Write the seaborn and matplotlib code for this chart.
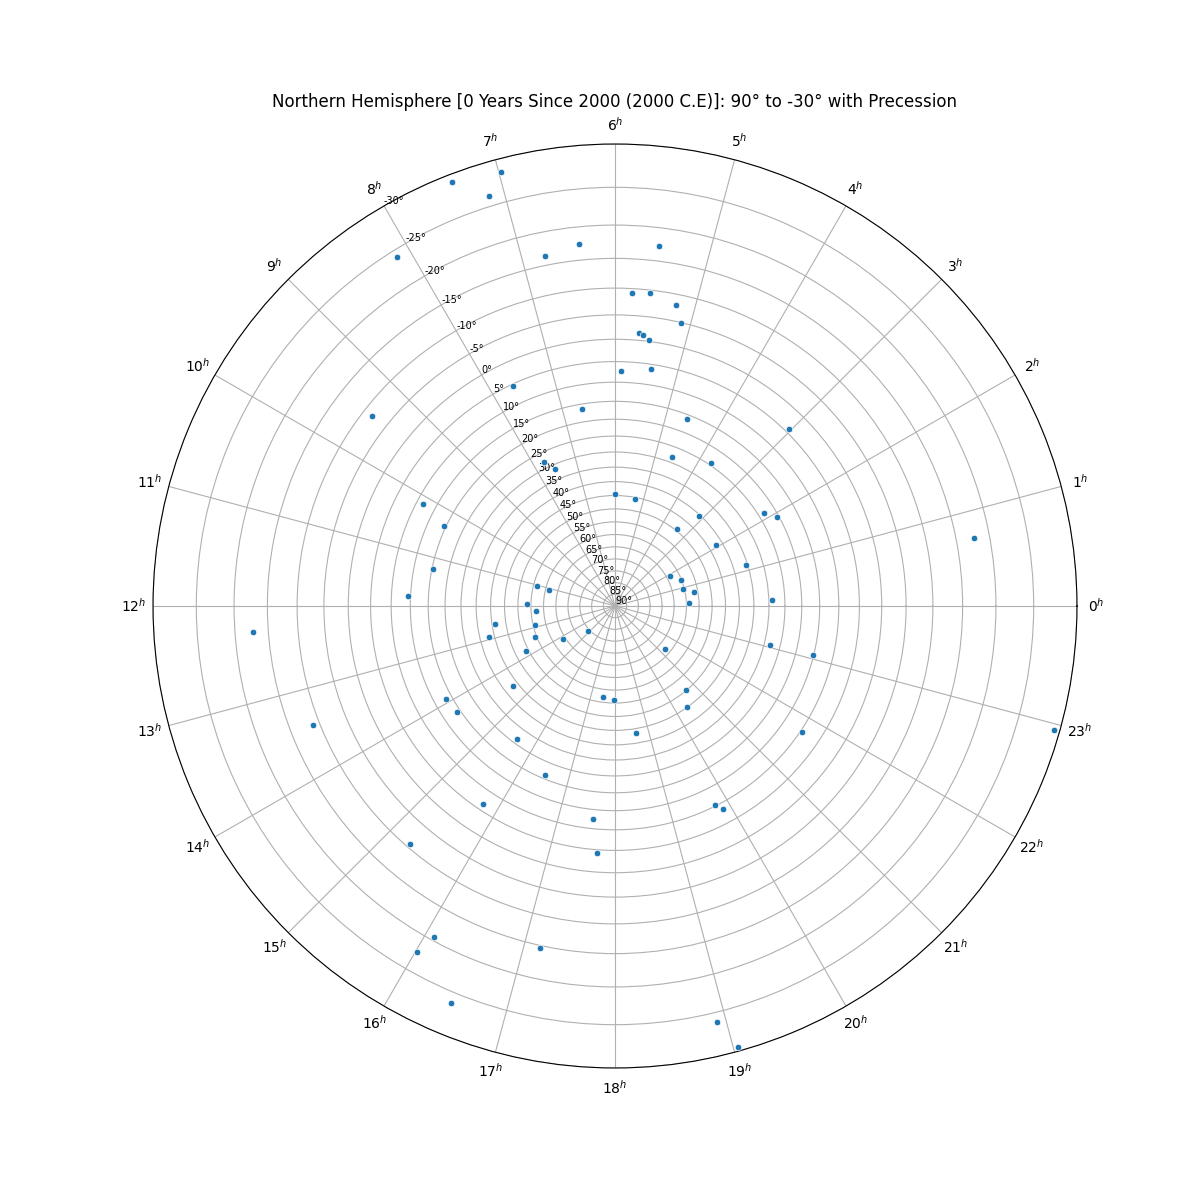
import numpy as np
import pandas as pd
import matplotlib
matplotlib.use("Agg")
import matplotlib.pyplot as plt
import seaborn as sns

# Star positions: right ascension (hours) and declination (degrees)
ra_hours = [7.40, 6.98, 7.14, 8.13, 6.75, 6.38, 5.54, 5.79, 5.58, 5.23,
            5.12, 5.67, 5.60, 5.52, 5.91, 5.42, 7.65, 9.46, 6.63, 4.59,
            3.03, 4.60, 3.73, 7.75, 7.57, 6.00, 5.28, 10.14, 10.33, 2.12,
            1.91, 3.13, 3.40, 2.08, 0.72, 11.24, 1.15, 11.05, 11.10, 1.88,
            1.41, 0.92, 0.65, 11.82, 11.91, 12.26, 0.14, 0.14, 12.89, 12.58,
            14.90, 13.43, 14.15, 12.27, 12.92, 13.80, 23.06, 23.07, 21.27, 14.55,
            20.68, 17.51, 17.97, 13.93, 14.26, 20.37, 13.43, 22.95, 21.73, 18.63,
            15.58, 16.51, 15.75, 19.77, 19.86, 17.60, 15.29, 17.73, 16.09, 16.01,
            17.18, 16.50, 18.92, 19.04]
dec_deg = [-29.1, -28.5, -26.2, -24.1, -16.4, -17.5, -17.4, -9.3, -9.5, -8.0,
           -5.0, -1.5, -1.2, -0.2, 7.3, 6.2, 5.4, -8.3, 16.4, 16.2,
           4.1, 28.3, 24.3, 28.0, 31.6, 44.4, 45.7, 11.7, 19.4, 23.3,
           20.5, 40.5, 49.3, 42.3, -17.7, 20.4, 35.6, 56.5, 61.6, 63.5,
           60.1, 60.5, 56.4, 14.3, 53.6, 57.0, 29.0, 58.9, 55.9, 41.2,
           74.3, 54.4, 64.2, -17.3, 38.2, 49.0, 28.0, 15.1, 62.2, 38.1,
           45.0, 51.9, 51.2, 18.3, 19.0, 40.0, -11.1, -29.4, 9.5, 38.3,
           26.4, 21.1, 6.4, 10.3, 8.4, 12.4, -9.3, 4.2, -19.5, -22.4,
           -15.4, -26.3, -26.2, -29.6]

dec_ticks = list(range(90, -31, -5))
hour_ticks = list(range(24))


def stereo_r(dec):
    """Stereographic radius from the north pole for a declination in degrees."""
    return np.tan(np.deg2rad(90.0 - np.asarray(dec, dtype=float)) / 2.0)


df = pd.DataFrame({
    "theta": np.deg2rad(np.array(ra_hours) * 15.0),
    "r": stereo_r(dec_deg),
})

fig = plt.figure(figsize=(12, 12), dpi=100)
ax = fig.add_subplot(111, projection="polar")
sns.scatterplot(data=df, x="theta", y="r", ax=ax, s=22, color="#1f77b4",
                edgecolor="white", linewidth=0.5, zorder=3)

ax.set_ylim(0, float(stereo_r(min(dec_ticks))))
ax.set_yticks(stereo_r(dec_ticks))
ax.set_yticklabels([f"{d}°" for d in dec_ticks], fontsize=7)
ax.set_rlabel_position(120)
ax.set_xticks(np.deg2rad(np.array(hour_ticks) * 15.0))
ax.set_xticklabels([f"${h}^h$" for h in hour_ticks], fontsize=10)
ax.set_xlabel("")
ax.set_ylabel("")
ax.grid(True, color="#b0b0b0", linewidth=0.8)
ax.set_title("Northern Hemisphere [0 Years Since 2000 (2000 C.E)]: 90° to -30° with Precession",
             fontsize=12)

fig.savefig("out.png", dpi=100)
